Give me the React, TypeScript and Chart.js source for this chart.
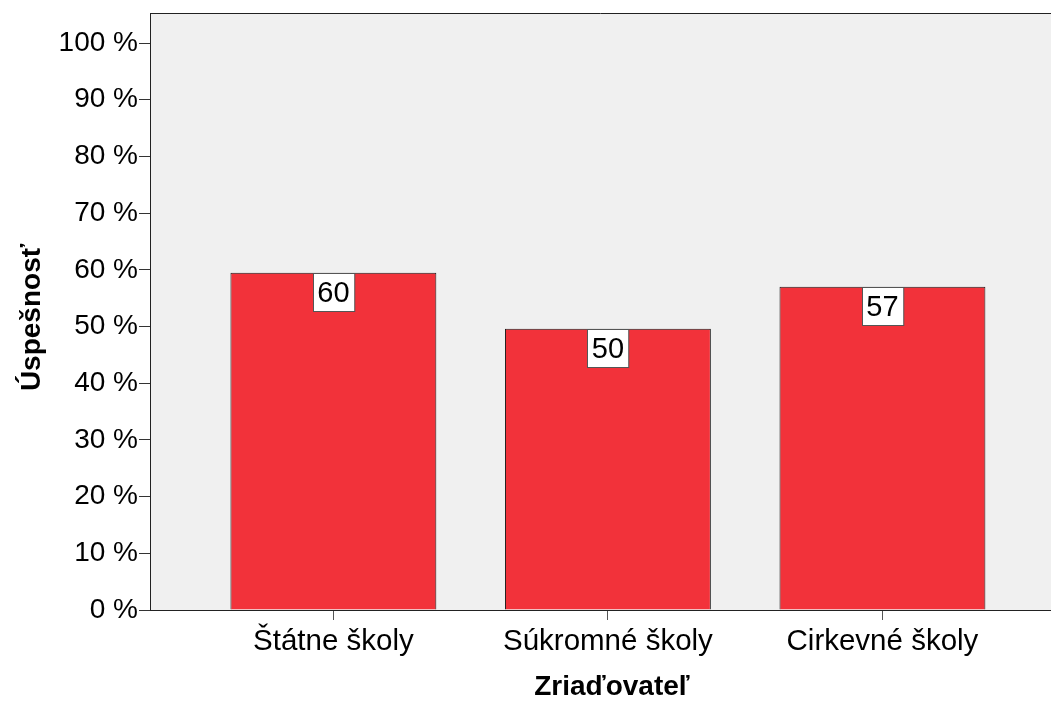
import React, { useEffect, useRef } from "react";
import { Chart, registerables } from "chart.js";

Chart.register(...registerables);

const categories = ["Štátne školy", "Súkromné školy", "Cirkevné školy"];
const positions = [0, 1, 2];
const values = [59.5, 49.6, 57.0];
const yTicks = [0, 10, 20, 30, 40, 50, 60, 70, 80, 90, 100];
const yTitle = "Úspešnosť";
const xTitle = "Zriaďovateľ";

const FONT = "'Liberation Sans', Arial, Helvetica, sans-serif";

export default function App() {
  const ref = useRef<HTMLCanvasElement | null>(null);

  useEffect(() => {
    document.body.style.margin = "0";
    const canvas = ref.current;
    if (!canvas) return;

    const framePlugin = {
      id: "frame",
      beforeDraw(chart: any) {
        const { ctx, chartArea } = chart;
        ctx.save();
        ctx.fillStyle = "#f0f0f0";
        ctx.fillRect(chartArea.left, chartArea.top, chartArea.right - chartArea.left, chartArea.bottom - chartArea.top);
        ctx.restore();
      },
      afterDraw(chart: any) {
        const { ctx, chartArea } = chart;
        ctx.save();
        ctx.strokeStyle = "#222";
        ctx.lineWidth = 1;
        ctx.beginPath();
        ctx.moveTo(chartArea.left, chartArea.top + 0.5);
        ctx.lineTo(chartArea.right, chartArea.top + 0.5);
        ctx.stroke();
        // axis titles
        ctx.fillStyle = "#000";
        ctx.font = `bold 28px ${FONT}`;
        ctx.textAlign = "center";
        ctx.textBaseline = "alphabetic";
        const xs = chart.scales.x;
        ctx.fillText(xTitle, xs.getPixelForValue(1) + 4, 695);
        ctx.translate(40, (chartArea.top + chartArea.bottom) / 2 + 6);
        ctx.rotate(-Math.PI / 2);
        ctx.fillText(yTitle, 0, 0);
        ctx.restore();
      },
      afterDatasetsDraw(chart: any) {
        const { ctx } = chart;
        const meta = chart.getDatasetMeta(0);
        ctx.save();
        ctx.font = `29px ${FONT}`;
        ctx.textAlign = "center";
        ctx.textBaseline = "middle";
        meta.data.forEach((bar: any, i: number) => {
          const txt = String(Math.round(values[i]));
          const w = ctx.measureText(txt).width + 9;
          const h = 38;
          const x = Math.round(bar.x - w / 2) + 0.5;
          const y = Math.round(bar.y) + 0.5;
          ctx.fillStyle = "#fff";
          ctx.fillRect(x, y, w, h);
          ctx.strokeStyle = "#555";
          ctx.lineWidth = 1;
          ctx.strokeRect(x, y, w, h);
          ctx.fillStyle = "#000";
          ctx.fillText(txt, bar.x, y + h / 2 + 1);
        });
        ctx.restore();
      },
    };

    const chart = new Chart(canvas, {
      type: "bar",
      data: {
        datasets: [
          {
            data: positions.map((p, i) => ({ x: p, y: values[i] })),
            backgroundColor: "rgb(242,50,58)",
            borderColor: "#1a1a1a",
            borderWidth: 1,
            barPercentage: 0.75,
            categoryPercentage: 1,
          },
        ],
      },
      options: {
        responsive: false,
        animation: false,
        layout: { padding: { top: 13, right: 0, left: 0, bottom: 0 } },
        plugins: { legend: { display: false }, tooltip: { enabled: false } },
        scales: {
          x: {
            type: "linear",
            offset: false,
            min: -0.668,
            max: 2.614,
            afterBuildTicks(scale: any) {
              scale.ticks = positions.map((v) => ({ value: v }));
            },
            afterFit(scale: any) {
              scale.height = 97;
              scale.paddingLeft = 0;
              scale.paddingRight = 0;
            },
            ticks: {
              callback: (v: any) => categories[Math.round(Number(v))] ?? "",
              font: { family: FONT, size: 29.5 },
              color: "#000",
              padding: 4,
              maxRotation: 0,
              autoSkip: false,
            },
            grid: { drawOnChartArea: false, offset: false, tickLength: 10, color: "#555" },
            border: { color: "#222", width: 1 },
          },
          y: {
            min: 0,
            max: 105.3,
            afterBuildTicks(scale: any) {
              scale.ticks = yTicks.map((v) => ({ value: v }));
            },
            afterFit(scale: any) {
              scale.width = 150;
              scale.paddingTop = 0;
              scale.paddingBottom = 0;
            },
            ticks: {
              callback: (v: any) => `${v} %`,
              font: { family: FONT, size: 28 },
              color: "#000",
              padding: 1,
            },
            grid: { drawOnChartArea: false, tickLength: 11, color: "#333" },
            border: { color: "#222", width: 1 },
          },
        },
      },
      plugins: [framePlugin],
    } as any);

    return () => chart.destroy();
  }, []);

  return (
    <div style={{ position: "absolute", left: 0, top: 0, width: 1051, height: 707 }}>
      <canvas ref={ref} width={1051} height={707} />
    </div>
  );
}
